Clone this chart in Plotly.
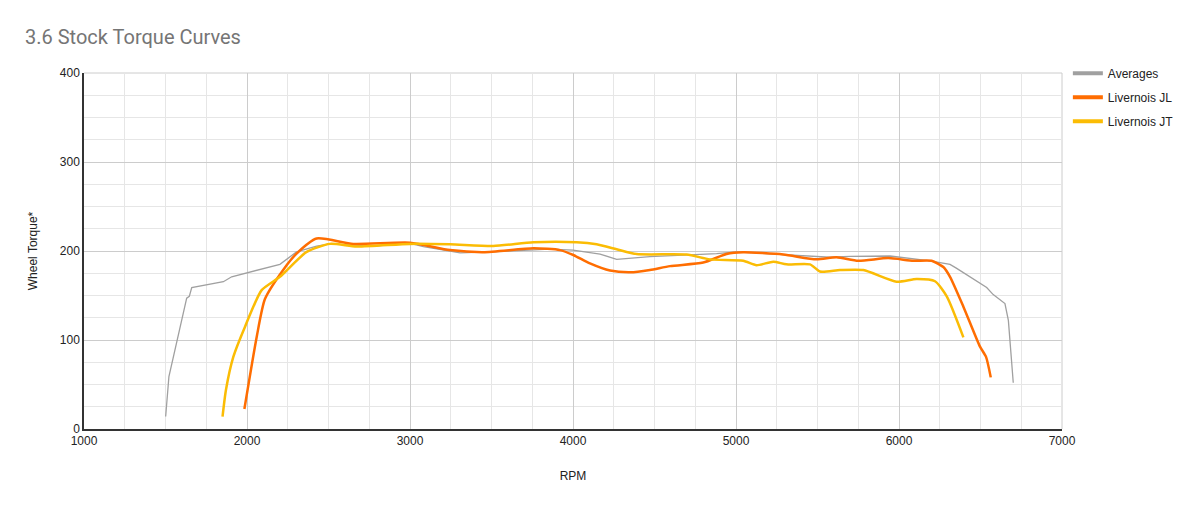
import plotly.graph_objects as go

avg_rpm = [1501, 1521, 1630, 1646, 1661, 1855, 1906, 2202, 2304, 2427, 2509, 2775, 3000, 3082, 3245, 3307,
           3491, 3859, 4000, 4166, 4268, 4472, 4881, 5003, 5577, 5700, 5945, 6006, 6190, 6313, 6354, 6538,
           6578, 6650, 6671, 6701]
avg_tq = [14, 59, 147, 149, 159, 165.5, 171, 185, 199, 205.6, 208, 205.6, 208.6, 205, 200, 198,
          199, 202, 201, 196.6, 190.6, 193.6, 197, 199, 193, 194, 194.4, 193, 189, 185, 180.5, 159,
          151, 141, 122, 52]

jl_rpm = [1984, 2060, 2110, 2223, 2304, 2427, 2652, 3000, 3245, 3450, 3757, 3920, 4002, 4104, 4227,
          4350, 4472, 4595, 4799, 4942, 5044, 5290, 5494, 5617, 5750, 5934, 6088, 6200, 6272, 6313,
          6395, 6497, 6534, 6563]
jl_tq = [22.5, 104, 146, 179, 197, 214, 208, 209.3, 201, 198.6, 203, 201, 195.5, 186, 178,
         176, 178.6, 183, 187, 196.6, 198.5, 196, 190.6, 193, 189, 192, 189, 189, 182, 171,
         137.5, 92.5, 81, 58]

jt_rpm = [1850, 1871, 1916, 1988, 2090, 2202, 2366, 2509, 2673, 3000, 3245, 3511, 3757, 4022, 4145,
          4268, 4390, 4697, 4840, 5044, 5126, 5229, 5310, 5454, 5515, 5638, 5781, 5985, 6108, 6221,
          6293, 6395]
jt_tq = [14, 44, 81, 115, 156, 171, 199, 208, 205, 208, 207.5, 205.6, 209.8, 209.8, 207.5,
         202, 196.6, 196, 190.6, 189, 184, 188, 185, 185, 177, 178.6, 178.6, 165.5, 168.5, 166,
         149, 103]

x_ticks = [1000, 2000, 3000, 4000, 5000, 6000, 7000]
y_ticks = [0, 100, 200, 300, 400]

names = ["Averages", "Livernois JL", "Livernois JT"]
colors = ["#a0a0a0", "#ff6d01", "#fbbc04"]

fig = go.Figure()
fig.add_trace(go.Scatter(x=avg_rpm, y=avg_tq, name=names[0], mode="lines", showlegend=False,
                         line=dict(color=colors[0], width=1.3), legendgroup="a"))
fig.add_trace(go.Scatter(x=jl_rpm, y=jl_tq, name=names[1], mode="lines", showlegend=False,
                         line=dict(color=colors[1], width=2.5, shape="spline", smoothing=0.6), legendgroup="b"))
fig.add_trace(go.Scatter(x=jt_rpm, y=jt_tq, name=names[2], mode="lines", showlegend=False,
                         line=dict(color=colors[2], width=2.5, shape="spline", smoothing=0.6), legendgroup="c"))
# legend entries with thick swatches (as in the reference)
for nm, col, grp in zip(names, colors, ["a", "b", "c"]):
    fig.add_trace(go.Scatter(x=[None], y=[None], name=nm, mode="lines", legendgroup=grp,
                             line=dict(color=col, width=4), hoverinfo="skip"))

font_family = "Roboto, Arial, sans-serif"
fig.update_layout(
    width=1203, height=507,
    margin=dict(l=84, r=141, t=73, b=78),
    paper_bgcolor="white", plot_bgcolor="white",
    title=dict(text="3.6 Stock Torque Curves", x=25/1203, xanchor="left", y=1-37/507, yanchor="middle",
               font=dict(family=font_family, size=20, color="#757575")),
    font=dict(family="Arial, Liberation Sans, sans-serif", size=12, color="#222222"),
    legend=dict(x=1.006, xanchor="left", y=1.04, yanchor="top", traceorder="grouped",
                tracegroupgap=5, font=dict(size=12, color="#222222"), bgcolor="rgba(0,0,0,0)"),
    xaxis=dict(range=[1000, 7000], tickvals=x_ticks, ticktext=[str(v) for v in x_ticks],
               showgrid=True, gridcolor="#cccccc", gridwidth=1,
               minor=dict(dtick=250, showgrid=True, gridcolor="#e6e6e6", gridwidth=1),
               showline=True, linecolor="#333333", linewidth=1.5, zeroline=False,
               title=dict(text="RPM", font=dict(size=12, color="#222222"), standoff=24),
               tickfont=dict(size=12, color="#222222"), ticks="", mirror=False),
    yaxis=dict(range=[0, 400], tickvals=y_ticks,
               showgrid=True, gridcolor="#cccccc", gridwidth=1,
               minor=dict(dtick=25, showgrid=True, gridcolor="#e6e6e6", gridwidth=1),
               showline=True, linecolor="#333333", linewidth=1.5, zeroline=False,
               title=dict(text="Wheel Torque*", font=dict(size=12, color="#222222"), standoff=20),
               tickfont=dict(size=12, color="#222222"), ticks=""),
)
fig.add_shape(type="line", xref="paper", yref="paper", x0=0, x1=1, y0=1, y1=1,
              line=dict(color="#cccccc", width=1), layer="below")
fig.add_shape(type="line", xref="paper", yref="paper", x0=1, x1=1, y0=0, y1=1,
              line=dict(color="#cccccc", width=1), layer="below")

fig.write_html("out.html")
